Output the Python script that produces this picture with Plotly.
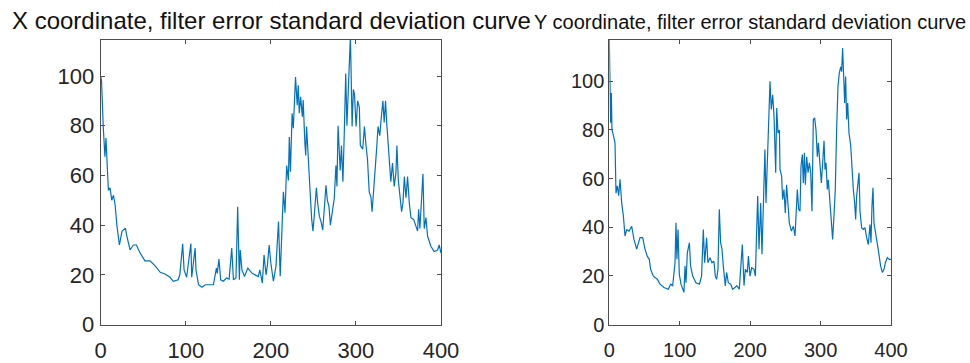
import plotly.graph_objects as go

# ---- data ----
TITLE_X = "X coordinate, filter error standard deviation curve"
TITLE_Y = "Y coordinate, filter error standard deviation curve"
X_TICKS = [0, 100, 200, 300, 400]
Y_TICKS = [0, 20, 40, 60, 80, 100]

LX = [0, 1, 3, 5, 6.2, 7.8, 9, 11, 13, 15, 17, 19, 22, 25, 29, 30.5, 34.5, 38.4, 42, 46,
      52, 58, 64, 70, 75.6, 81.5, 85.4, 91, 93, 96.4, 98, 101, 106, 107, 111, 112, 115, 119, 123, 128.6,
      132.5, 136, 137, 139, 141, 144, 148, 151, 154, 156, 159, 161, 163, 164, 166, 169, 173, 178, 182, 185.3,
      187, 190, 192, 194.3, 196, 198, 200, 203, 206, 209, 211, 212.7, 214.7, 216.6, 218.6, 220.6, 221.7, 223, 225, 226.4,
      229, 231, 232.2, 233.4, 235, 237, 238, 240, 241, 242, 244, 246, 248, 249.5, 251, 253.5, 255, 257, 259, 261,
      263, 264.8, 266.4, 268.3, 270, 272.5, 274.5, 276.5, 277.7, 279, 281.5, 283, 284.7, 286.3, 288, 289.4, 291, 292.3, 293.5, 294.3,
      295.5, 297, 298.3, 300.2, 302, 304, 305.2, 308, 310, 311.6, 313.6, 315.6, 317.6, 319, 321.5, 323, 324.6, 326, 328, 330,
      331.7, 333.2, 334.8, 336.3, 337.9, 339.5, 341, 343, 345, 347, 348.2, 349.8, 352, 353.7, 355.3, 356.9, 358.8, 360.7, 362.7, 364.7,
      367.8, 370.5, 372.5, 373.7, 375.2, 377.2, 378.8, 380.3, 382.3, 384.2, 388.2, 392, 396, 397.9, 400]
LY = [100, 98, 79.5, 67.5, 75, 62, 54, 55, 50, 52, 48, 40, 32, 37.5, 38.8, 36, 30, 32, 32, 29,
      25.6, 25.6, 23.6, 21, 20.3, 19, 17.4, 18, 20, 32.5, 22, 19, 32.6, 19, 30.8, 22, 16, 15, 16, 16,
      16, 22.7, 20.6, 26.3, 18, 17.4, 18.7, 18.3, 30.8, 18, 18.7, 47.4, 18, 30, 22, 19.3, 22.7, 20.6, 20, 19.3,
      22, 16.7, 28, 20, 24, 32, 24.7, 17.4, 23.4, 41.4, 19.4, 38, 53.4, 45, 64, 58, 75.5, 61.5, 85, 79,
      99.6, 88.3, 96.3, 85, 91.6, 83.6, 90.3, 73, 68, 79.7, 65, 54.4, 42.3, 37.6, 43.6, 55, 49, 43.6, 41.4, 38,
      47.5, 56, 50, 47.6, 40, 46, 50.6, 64, 55.6, 80, 62, 72, 57.5, 77, 101, 80, 95, 107.6, 116, 102,
      79.7, 94.6, 92.6, 79.7, 90, 87.5, 72, 70.6, 79.7, 73, 66.4, 53.4, 51.4, 45.4, 59.5, 67.5, 72, 79.7, 76, 84,
      90, 81.3, 90, 80.6, 73, 63.6, 57.5, 65, 55.6, 61, 72, 58.2, 51.4, 45.4, 49, 59.5, 51, 59.5, 49, 43,
      42.3, 39.6, 37.6, 46.4, 38.6, 50.8, 60.7, 38.6, 43, 35.6, 31.4, 29.4, 30, 32, 28.7]

RX = [0, 1.9, 2.9, 3.8, 5.7, 8.1, 9.5, 11.4, 13.3, 15.2, 17.6, 20, 22.3, 24.7, 28, 31.8, 35, 38.9, 43.6, 47.4,
      50.7, 54, 56.8, 58.7, 62.5, 68.2, 72, 77.7, 83.8, 87.1, 90, 91.8, 93.3, 94.7, 96, 97.6, 99.4, 101.8, 104, 106,
      107.5, 108.9, 110.8, 112.2, 113.7, 115.5, 118.4, 123, 128, 131, 133.5, 135.4, 138.2, 140, 143, 145.8, 148.6, 150.5, 152.4, 154.3,
      156.2, 158.1, 160, 161.9, 163.8, 164.7, 166.6, 169, 172.3, 175.1, 178.4, 181, 184.6, 187, 188.9, 191.3, 193.2, 196, 197.5, 199.8,
      202.2, 205.5, 207.4, 209.3, 210.7, 212.6, 215, 216.8, 218.7, 221, 222.5, 224.4, 226.3, 228.2, 230, 232, 233.9, 236.3, 237.7, 239.5,
      241.5, 242.4, 244.7, 246.1, 248, 249.9, 251.8, 253.7, 255.6, 258.5, 261.3, 263.7, 265.1, 267, 268.9, 270.8, 272.2, 274.1, 275.5, 277,
      278.4, 280.3, 282.2, 284.1, 286, 287.8, 289.7, 291.6, 293.5, 295.4, 296.9, 299.2, 301.1, 303, 304.9, 306.3, 307.7, 309.6, 311, 313.4,
      315.7, 317.1, 319, 320.9, 322.8, 324.7, 326.6, 328.5, 329.9, 331.3, 332.8, 334.2, 335.6, 337, 338.5, 340.3, 342.7, 344.6, 346.5, 348.4,
      349.8, 351.2, 353.1, 354.6, 356, 358.3, 360.7, 363.1, 365.4, 367.8, 370.2, 371.6, 373, 374.4, 375.8, 377.7, 379.6, 381.5, 383.4, 385.3,
      387.7, 390.1, 392, 394.8, 397.6, 400]
RY = [117, 83, 95.2, 80, 78, 74.7, 54, 57, 53, 59.7, 50, 44.6, 36.4, 39, 38.4, 40.4, 35, 31, 35.7, 35.7,
      31, 28, 26.8, 22.7, 19.9, 18.6, 16.6, 15.2, 14.5, 16.6, 16, 19.9, 25.4, 41.8, 26.8, 39.1, 20.6, 16.6, 14.5, 13.2,
      24, 17.2, 29.5, 32.3, 33.6, 24, 19.9, 17.2, 16.6, 19.9, 39.1, 25.4, 35.7, 25.4, 27.5, 25.4, 26, 19.9, 18.6, 22.7,
      47.4, 33.6, 31, 24, 19.9, 15.9, 21.4, 17.2, 16.6, 14.5, 15.2, 16, 14.5, 25.4, 32.9, 16, 22.7, 21.4, 28.2, 19.9,
      23.3, 22.7, 19.9, 39.1, 52.8, 31, 50, 28.9, 50, 72, 50, 69, 87, 100, 88.4, 94.5, 85.6, 62.4, 89, 78.8,
      80, 63.8, 61, 51.4, 55.5, 45.9, 57.5, 50, 41.8, 38.4, 40.4, 36.4, 44.6, 55.5, 47.4, 46.6, 65, 69.9, 58.2, 70.6,
      57.5, 69, 62.4, 66.5, 62.4, 46.6, 84.3, 85, 80, 69, 74.7, 66.5, 58.2, 66.5, 75.6, 63.8, 66.5, 55.5, 59.5, 50,
      41.8, 35, 44.6, 55.5, 80, 97.9, 103.4, 106, 104, 113.7, 102, 91.1, 102, 84.3, 91.1, 78.8, 74, 63.8, 55.5, 50,
      43.2, 52.8, 58.2, 62.4, 46.6, 39.8, 39.1, 39.8, 35.7, 32.9, 41.1, 33.6, 48.7, 56.2, 41.8, 39.1, 35, 31.6, 26.8, 24,
      21.4, 22.7, 25.4, 27.5, 26.8, 26.8]

# ---- figure ----
W, H = 970, 363
LINE = "#0072BD"
AX = "#4d4d4d"
TXT = "#262626"
FONT = "Liberation Sans, Arial, sans-serif"

fig = go.Figure()
fig.add_trace(go.Scatter(x=LX, y=LY, mode="lines", line=dict(color=LINE, width=1.2),
                         xaxis="x", yaxis="y", showlegend=False, hoverinfo="skip"))
fig.add_trace(go.Scatter(x=RX, y=RY, mode="lines", line=dict(color=LINE, width=1.2),
                         xaxis="x2", yaxis="y2", showlegend=False, hoverinfo="skip"))

def px_x(p):
    return p / W

def px_y(p):
    return 1 - p / H

axis_common = dict(showline=True, linecolor=AX, linewidth=1, mirror="ticks",
                   ticks="inside", ticklen=4, tickcolor=AX, tickwidth=1,
                   showgrid=False, zeroline=False, fixedrange=True, automargin=False)

fig.update_layout(
    width=W, height=H, margin=dict(l=0, r=0, t=0, b=0, autoexpand=False),
    paper_bgcolor="white", plot_bgcolor="white",
    xaxis=dict(domain=[px_x(100.7), px_x(441)], range=[0, 400], tickvals=X_TICKS,
               tickfont=dict(family=FONT, size=22, color=TXT), ticklabelstandoff=6,
               anchor="y", **axis_common),
    yaxis=dict(domain=[px_y(324.5), px_y(40)], range=[0, 114.5], tickvals=Y_TICKS,
               tickfont=dict(family=FONT, size=22, color=TXT), ticklabelstandoff=1,
               anchor="x", **axis_common),
    xaxis2=dict(domain=[px_x(609.3), px_x(891)], range=[0, 400], tickvals=X_TICKS,
                tickfont=dict(family=FONT, size=20, color=TXT), ticklabelstandoff=7,
                anchor="y2", **axis_common),
    yaxis2=dict(domain=[px_y(324.5), px_y(40)], range=[0, 117], tickvals=Y_TICKS,
                tickfont=dict(family=FONT, size=20, color=TXT), ticklabelstandoff=0,
                anchor="x2", **axis_common),
    annotations=[
        dict(text=TITLE_X, x=px_x(271), y=px_y(36), xref="paper", yref="paper",
             xanchor="center", yanchor="bottom", showarrow=False,
             font=dict(family=FONT, size=24, color="#111111")),
        dict(text=TITLE_Y, x=px_x(750), y=px_y(35), xref="paper", yref="paper",
             xanchor="center", yanchor="bottom", showarrow=False,
             font=dict(family=FONT, size=20, color="#111111")),
    ],
)

fig.write_html("out.html")
